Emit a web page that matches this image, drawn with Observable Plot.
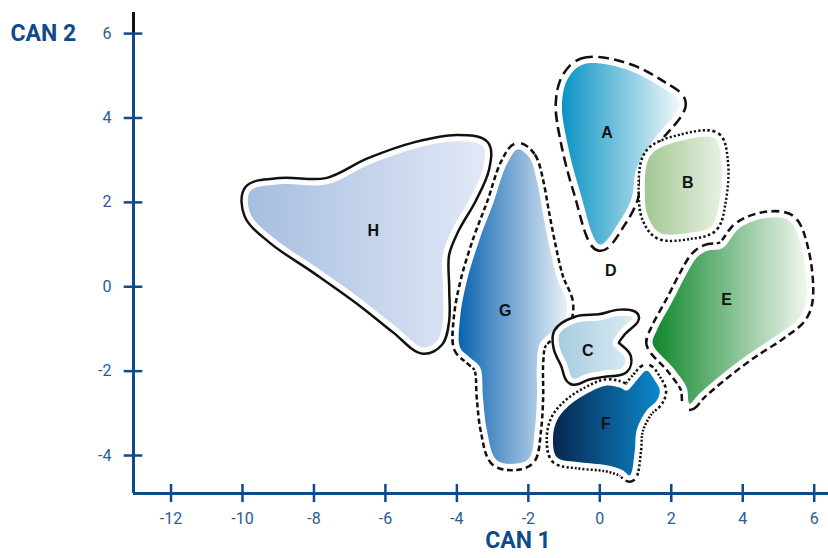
<!DOCTYPE html>
<html>
<head>
<meta charset="utf-8">
<script src="https://cdn.jsdelivr.net/npm/d3@7"></script>
<script src="https://cdn.jsdelivr.net/npm/@observablehq/plot@0.6"></script>
<style>
  html, body { margin: 0; padding: 0; background: #fff; }
</style>
</head>
<body>
<div id="chart"></div>
<script>
// ---- data (CAN 1, CAN 2) ----
const xTicks = [-12, -10, -8, -6, -4, -2, 0, 2, 4, 6];
const yTicks = [-4, -2, 0, 2, 4, 6];

const shapeA = [[-0.89,4.94],[-0.47,5.27],[0.64,5.18],[1.68,4.75],[2.23,4.35],[1.48,3.45],[1.03,2.81],[0.89,2.10],[0.56,1.56],[0.0,1.00],[-0.56,2.27],[-0.92,3.45],[-1.06,4.33]];
const shapeB = [[1.54,3.22],[2.23,3.45],[3.21,3.52],[3.41,2.98],[3.35,2.03],[3.13,1.44],[2.51,1.28],[1.68,1.28],[1.34,1.68],[1.26,2.39],[1.34,2.98]];
const shapeC = [[-1.12,-1.11],[-0.64,-0.85],[0.0,-0.80],[0.56,-0.69],[0.92,-0.73],[0.56,-1.04],[0.36,-1.35],[0.70,-1.68],[0.64,-1.91],[0.08,-1.99],[-0.36,-2.06],[-0.75,-2.17],[-0.92,-1.82],[-1.12,-1.44]];
const shapeE = [[2.71,0.69],[2.99,0.85],[3.44,0.92],[3.91,1.39],[4.66,1.63],[5.31,1.56],[5.67,0.85],[5.78,-0.33],[5.59,-0.73],[5.03,-1.11],[4.19,-1.58],[3.44,-2.06],[2.79,-2.53],[2.51,-2.77],[2.43,-2.39],[2.04,-1.91],[1.48,-1.35],[1.59,-1.04],[2.04,-0.33],[2.43,0.31]];
const shapeF = [[-1.20,-3.17],[-0.92,-2.86],[-0.36,-2.53],[0.20,-2.34],[0.56,-2.39],[0.75,-2.46],[1.03,-2.22],[1.31,-1.99],[1.54,-2.22],[1.68,-2.46],[1.59,-2.70],[1.31,-2.93],[1.03,-3.40],[0.98,-3.88],[0.84,-4.47],[0.64,-4.35],[0.20,-4.23],[-0.56,-4.16],[-1.20,-4.04],[-1.31,-3.57]];
const shapeG = [[-2.29,3.26],[-1.96,3.05],[-1.76,2.51],[-1.59,1.73],[-1.40,0.92],[-1.20,0.21],[-0.92,-0.40],[-1.03,-0.87],[-1.40,-1.11],[-1.68,-1.35],[-1.76,-1.82],[-1.76,-2.62],[-1.82,-3.40],[-1.96,-4.04],[-2.23,-4.18],[-2.88,-4.11],[-3.16,-3.40],[-3.27,-2.62],[-3.35,-1.91],[-3.63,-1.68],[-3.91,-1.44],[-3.91,-0.73],[-3.72,0.14],[-3.35,1.16],[-2.99,1.96],[-2.60,2.91]];
const shapeH = [[-9.78,2.27],[-8.94,2.43],[-7.63,2.43],[-6.42,2.91],[-5.11,3.29],[-3.99,3.45],[-3.27,3.33],[-3.27,2.81],[-3.63,2.10],[-4.11,1.39],[-4.39,0.78],[-4.39,-0.02],[-4.39,-0.80],[-4.55,-1.28],[-4.94,-1.44],[-5.67,-0.97],[-6.62,-0.33],[-7.91,0.45],[-9.13,1.16],[-9.78,1.73]];

const groupNames = ["A", "B", "C", "D", "E", "F", "G", "H"];
const labelX = [0.20, 2.46, -0.34, 0.31, 3.55, 0.17, -2.65, -6.34];
const labelY = [3.64, 2.46, -1.51, 0.38, -0.31, -3.26, -0.57, 1.32];

// ---- styling ----
const xMin = -13.05, xMax = 6.4, yMin = -4.9, yMax = 6.5;
const axisColor = "#0f4a8a";
const tickLabelColor = "#2b5b95";

const shapes = [
  {name: "H", pts: shapeH, dash: null,  grad: ["#a6bedf", "#e2e8f7"]},
  {name: "G", pts: shapeG, dash: "5,3", grad: ["#0a63b0", "#e8f0f8"]},
  {name: "A", pts: shapeA, dash: "10,5", grad: ["#0a93c4", "#eef8fb"]},
  {name: "B", pts: shapeB, dash: "2,2", grad: ["#a3c794", "#e8f1e2"]},
  {name: "E", pts: shapeE, dash: "7,4", grad: ["#0f872c", "#f1f7ef"]},
  {name: "C", pts: shapeC, dash: null,  grad: ["#a5cce0", "#dbebf3"]},
  {name: "F", pts: shapeF, dash: "2,2", grad: ["#08264f", "#0b88cb"]}
];

const shapeMarks = shapes.flatMap(s => {
  const o = {x: d => d[0], y: d => d[1], curve: "catmull-rom-closed", strokeLinecap: "butt", strokeLinejoin: "round"};
  return [
    Plot.line(s.pts, {...o, stroke: "#111", strokeWidth: 15, strokeDasharray: s.dash ?? undefined, fill: "none"}),
    Plot.line(s.pts, {...o, stroke: "#fff", strokeWidth: 10, fill: "none"}),
    Plot.line(s.pts, {...o, stroke: "none", fill: `url(#grad${s.name})`})
  ];
});

const labelData = groupNames.map((n, i) => ({n, x: labelX[i], y: labelY[i]}));

const svg = Plot.plot({
  width: 828,
  height: 558,
  marginLeft: 133,
  marginRight: 0,
  marginTop: 12,
  marginBottom: 65,
  x: {domain: [xMin, xMax], axis: null},
  y: {domain: [yMin, yMax], axis: null},
  style: {fontFamily: "Roboto, 'Liberation Sans', sans-serif", background: "#fff", overflow: "visible"},
  marks: [
    ...shapeMarks,
    Plot.text(labelData, {x: "x", y: "y", text: "n", fontSize: 16, fontWeight: "bold", fill: "#111", fontFamily: "'Liberation Sans', Arial, sans-serif"}),
    // axes
    Plot.ruleY([yMin], {x1: xMin, x2: xMax, stroke: axisColor, strokeWidth: 3}),
    Plot.ruleX([xMin], {y1: yMin, y2: 6, stroke: axisColor, strokeWidth: 3}),
    Plot.ruleX([xMin], {y1: 6, y2: yMax, stroke: "#111", strokeWidth: 3}),
    Plot.ruleX(xTicks, {x: d => d, y1: yMin - 0.215, y2: yMin + 0.215, stroke: axisColor, strokeWidth: 2.5}),
    Plot.ruleY(yTicks, {y: d => d, x1: xMin - 0.26, x2: xMin + 0.26, stroke: axisColor, strokeWidth: 2.5}),
    Plot.text(xTicks, {x: d => d, y: yMin, dy: 25, text: d => String(d), fontSize: 16, fill: tickLabelColor}),
    Plot.text(yTicks, {x: xMin, y: d => d, dx: -22, text: d => String(d), textAnchor: "end", fontSize: 16, fill: tickLabelColor}),
    Plot.text(["CAN 2"], {frameAnchor: "top-left", dx: -123, dy: 12, text: d => d, textAnchor: "start", fontSize: 23, fontWeight: "bold", fill: axisColor}),
    Plot.text(["CAN 1"], {frameAnchor: "bottom", dx: 37, dy: 54, text: d => d, fontSize: 23, fontWeight: "bold", fill: axisColor})
  ]
});

// gradient definitions
const defs = d3.select(svg).insert("defs", ":first-child");
shapes.forEach(s => {
  const g = defs.append("linearGradient").attr("id", "grad" + s.name).attr("x1", 0).attr("x2", 1).attr("y1", 0).attr("y2", 0);
  g.append("stop").attr("offset", "0%").attr("stop-color", s.grad[0]);
  g.append("stop").attr("offset", "100%").attr("stop-color", s.grad[1]);
});

document.getElementById("chart").appendChild(svg);
</script>
</body>
</html>
